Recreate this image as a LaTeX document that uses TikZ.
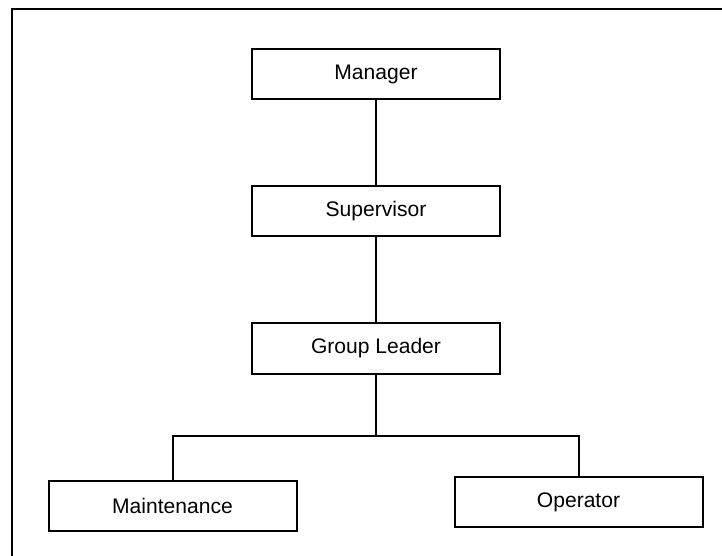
\documentclass[tikz,border=0pt]{standalone}
\usepackage{fontspec}
\setmainfont{Liberation Sans}
\begin{document}
\begin{tikzpicture}[x=0.75pt,y=-0.75pt,
  role/.style={draw,line width=1.5pt,fill=white,minimum width=186pt,minimum height=37.5pt,
    inner sep=0pt,font=\fontsize{15.8}{19}\selectfont},
  link/.style={line width=1.5pt}]
  \useasboundingbox (0,0) rectangle (722,556);
  % open frame along the left and top edges
  \draw[line width=1.6pt] (12,556) -- (12,9) -- (722,9);
  \node[role] (mgr) at (376,74) {Manager};
  \node[role] (sup) at (376,211.5) {Supervisor};
  \node[role] (gl) at (376,348.5) {Group Leader};
  \node[role] (mnt) at (172.5,506) {Maintenance};
  \node[role] (op) at (578.5,502) {Operator};
  \coordinate (split) at (376,436);
  \draw[link] (mgr) -- (sup);
  \draw[link] (sup) -- (gl);
  \draw[link] (gl) -- (split);
  \draw[link] (mnt.north) |- (split) -| (op.north);
\end{tikzpicture}
\end{document}
